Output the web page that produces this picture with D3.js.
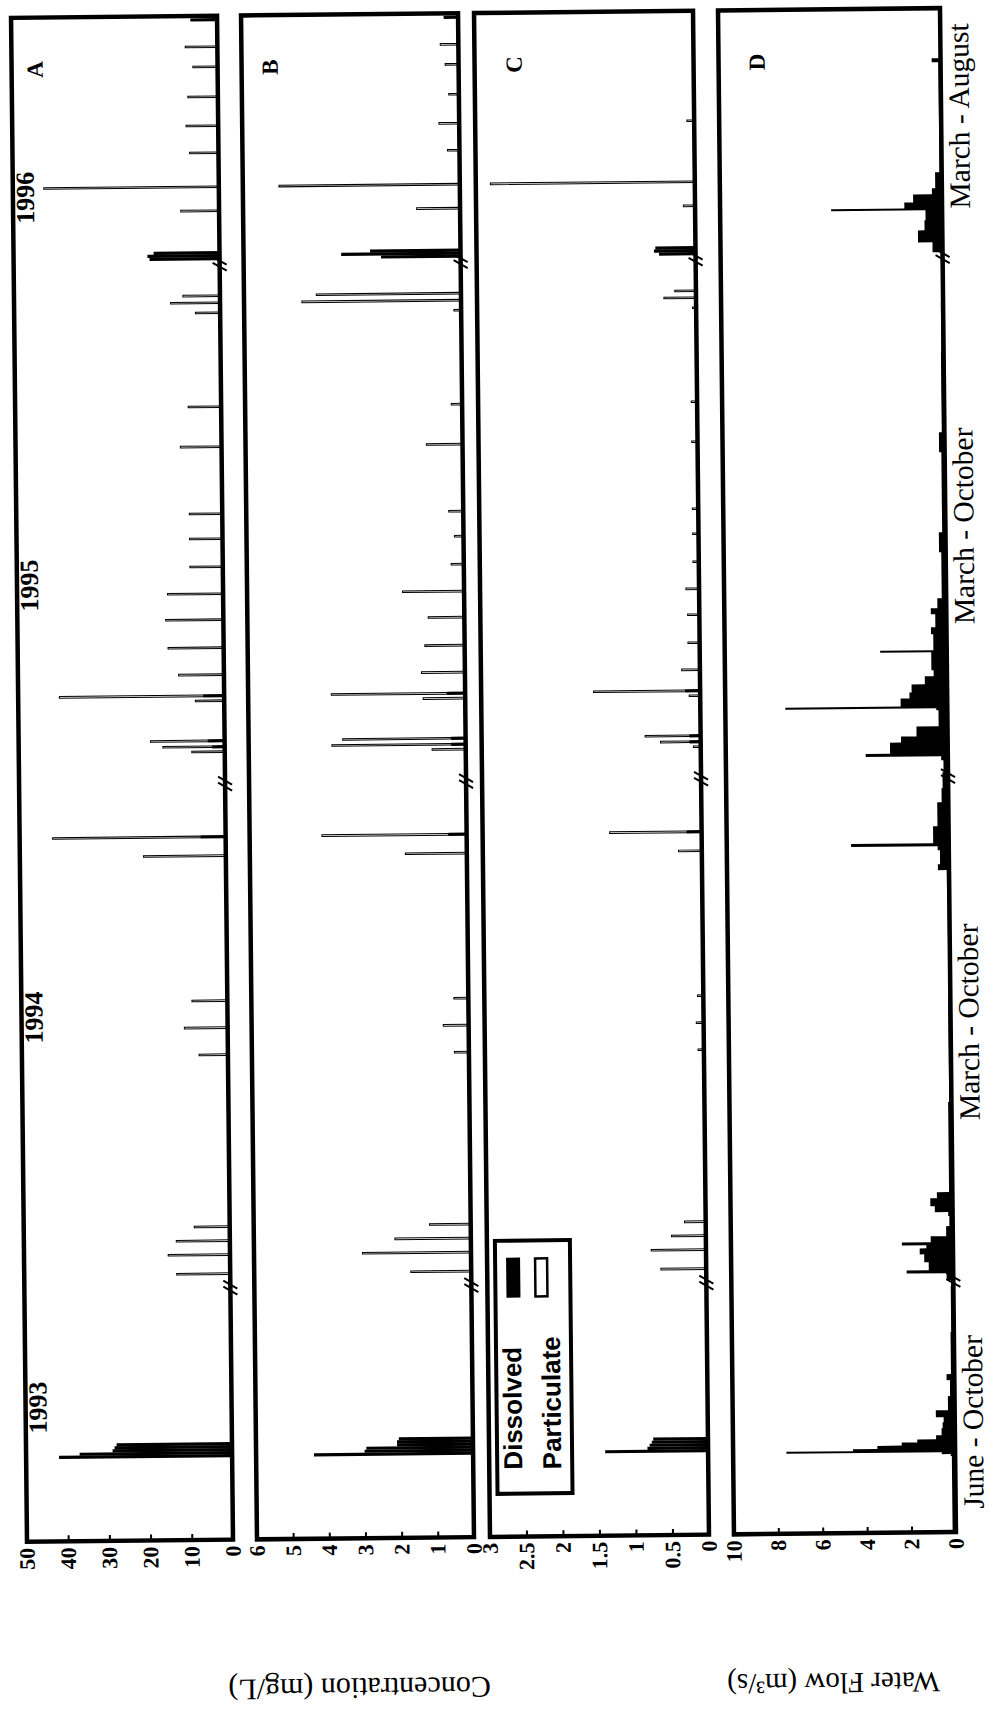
<!DOCTYPE html>
<meta charset="utf-8">
<head>
  <title>Concentration and water flow</title>
  <style>
    body { margin: 0; background: #fff; }
  </style>
</head>

<script src="https://d3js.org/d3.v7.min.js"></script>

<div id="my_dataviz"></div>

<script>

// sampling days along the (broken) time axis, winters left out
var sampleDay = [42, 43.5, 45, 46.5, 48, 49.5,
  133, 142.5, 149.5, 156.5, 242.5, 256, 269.5, 342, 351.5,
  394, 396.5, 399.5, 419.5, 422, 432.5, 446, 460, 473, 486.5, 500.5, 513, 546.5, 566.5, 613.5, 618.5, 622,
  640.5, 642, 643.5, 664.5, 676.5, 693.5, 707, 721.5, 736.5, 746.5, 760];

// panel A (mg/L)
var aDissolved = [42, 37, 29, 28.5, 28, 0,
  0, 0, 0, 0, 0, 0, 0, 0, 6,
  0, 3, 4, 0, 5, 0, 0, 0, 0, 0, 0, 0, 0, 0, 0, 0, 0,
  17, 17.5, 16, 0, 0, 0, 0, 0, 0, 0, 6.5];
var aParticulate = [0, 0, 0, 0, 0, 0,
  13, 15, 13, 8.6, 7, 10.5, 8.6, 20, 36,
  8, 12, 14, 7, 35, 11, 13.5, 14, 13.5, 8, 8, 8, 10, 8, 6, 12, 9,
  0, 0, 0, 9.3, 42.5, 7, 7.8, 7.3, 6, 7.8, 0];

// panel B (mg/L)
var bDissolved = [4.4, 3.0, 2.95, 2.1, 2.1, 2.05,
  0, 0, 0, 0, 0, 0, 0, 0, 0.5,
  0, 0.4, 0.4, 0, 0.5, 0, 0, 0, 0, 0, 0, 0, 0, 0, 0, 0, 0,
  2.2, 3.3, 2.5, 0, 0, 0, 0, 0, 0, 0, 0.4];
var bParticulate = [0, 0, 0, 0, 0, 0,
  1.67, 3.0, 2.1, 1.14, 0.4, 0.7, 0.4, 1.7, 3.5,
  0.93, 3.3, 3.0, 1.16, 3.2, 1.2, 1.1, 1.0, 1.7, 0.35, 0.25, 0.4, 1.0, 0.3, 0.2, 4.4, 4.0,
  0, 0, 0, 1.2, 5.0, 0.33, 0.56, 0.28, 0.37, 0.5, 0];

// panel C (mg/L)
var cDissolved = [1.41, 0.83, 0.8, 0.77, 0.75, 0,
  0, 0, 0, 0, 0, 0, 0, 0, 0.2,
  0, 0.15, 0.15, 0, 0.2, 0, 0, 0, 0, 0, 0, 0, 0, 0, 0, 0, 0,
  0.5, 0.57, 0.55, 0, 0, 0, 0, 0, 0, 0, 0];
var cParticulate = [0, 0, 0, 0, 0, 0,
  0.62, 0.75, 0.47, 0.29, 0.08, 0.1, 0.08, 0.32, 1.06,
  0.1, 0.4, 0.61, 0.15, 1.26, 0.25, 0.16, 0.16, 0.18, 0.08, 0.08, 0.08, 0.08, 0.08, 0.05, 0.44, 0.29,
  0, 0, 0, 0.16, 2.8, 0, 0.1, 0, 0, 0, 0];

// panel D, water flow (m3/s)
var flowDay = [0, 10, 38, 39, 40, 41, 42, 43.5, 45, 46.5, 48.5, 52, 55, 57.5, 61, 68, 76, 79, 100, 123,
  126, 129.5, 131, 135, 139, 142, 143.5, 145, 148, 153, 158, 160, 163, 167, 170, 215, 265, 315, 331, 334, 341, 343, 344.5, 348, 353, 365, 372,
  380, 386, 388, 389.5, 395, 398, 403, 411, 412, 413, 417, 420, 424, 428, 431, 440, 441, 449, 452.5, 459, 462, 467, 479, 490, 500, 540, 550, 590, 615,
  640, 645, 651, 656, 661, 662, 665, 669, 672, 680, 735, 737, 762];
var flowValue = [0.15, 0.15, 0.2, 0.6, 7.6, 4.6, 3.5, 2.4, 1.7, 0.85, 0.6, 0.55, 0.5, 0.85, 0.3, 0.2, 0.35, 0.15, 0.12, 0.1,
  0.3, 2.1, 1.1, 1.3, 1.5, 1.2, 2.3, 1.0, 0.3, 0.15, 0.2, 0.8, 1.0, 0.7, 0.15, 0.1, 0.08, 0.1, 0.5, 0.4, 0.5, 4.4, 0.7, 0.7, 0.5, 0.3, 0.25,
  0.2, 0.3, 3.7, 2.6, 2.1, 1.4, 0.4, 0.5, 7.3, 2.1, 1.7, 1.6, 1.0, 0.6, 0.7, 3.0, 0.6, 0.7, 0.5, 0.7, 0.4, 0.2, 0.2, 0.3, 0.15, 0.25, 0.12, 0.1, 0.08,
  0.45, 1.1, 0.8, 0.75, 5.0, 1.7, 1.3, 0.45, 0.3, 0.1, 0.4, 0.05, 0.05];

// tick labels of each panel
var aTicks = [0, 10, 20, 30, 40, 50];
var bTicks = [0, 1, 2, 3, 4, 5, 6];
var cTicks = [0, 0.5, 1, 1.5, 2, 2.5, 3];
var dTicks = [0, 2, 4, 6, 8, 10];

// axis breaks and labels along the time axis
var breakDay = [126, 378, 638];
var yearLabel = ["1993", "1994", "1995", "1996"];
var yearDay = [67, 262, 478, 672];
var seasonLabel = ["June - October", "March - October", "March - October", "March - August"];
var seasonDay = [55, 255, 503, 708];
var panelName = ["A", "B", "C", "D"];


var W = 994, H = 1713;
var serif = "'Liberation Serif', 'Times New Roman', serif";
var sans = "'Liberation Sans', Arial, sans-serif";

var svg = d3.select("#my_dataviz")
  .append("svg")
    .attr("width", W)
    .attr("height", H)
    .style("display", "block");

svg.append("rect").attr("width", W).attr("height", H).attr("fill", "#fff");

// the scanned page is a little tilted
var scan = svg.append("g")
    .attr("transform", "rotate(-0.6,480,775)");

// the figure is drawn landscape and turned a quarter turn to the left
var fig = scan.append("g")
    .attr("transform", "translate(0," + H + ") rotate(-90)");

// time axis (landscape x)
var x = d3.scaleLinear().domain([0, 762]).range([176, 1700]);

var panels = [
  {top: 19,  bottom: 225, max: 50, ticks: aTicks, dis: aDissolved, par: aParticulate, letterOff: 31},
  {top: 249, bottom: 466, max: 6,  ticks: bTicks, dis: bDissolved, par: bParticulate, letterOff: 36},
  {top: 482, bottom: 701, max: 3,  ticks: cTicks, dis: cDissolved, par: cParticulate, letterOff: 47},
  {top: 726, bottom: 948, max: 10, ticks: dTicks, flow: true, letterOff: 46}
];

panels.forEach(function(p, k) {
  var y = d3.scaleLinear().domain([0, p.max]).range([p.bottom, p.top]);
  var g = fig.append("g");

  if (p.flow) {
    var flow = flowDay.map(function(t, i) { return {t: t, q: flowValue[i]}; });
    g.append("path")
      .datum(flow)
      .attr("fill", "#000")
      .attr("d", d3.area()
        .curve(d3.curveStepAfter)
        .x(function(d) { return x(d.t); })
        .y0(y(0))
        .y1(function(d) { return y(d.q); }));
  } else {
    var rows = sampleDay.map(function(t, i) { return {t: t, d: p.dis[i], p: p.par[i]}; });
    // dissolved: filled bars
    g.selectAll(".dis")
      .data(rows.filter(function(d) { return d.d > 0; }))
      .enter().append("rect")
        .attr("x", function(d) { return x(d.t) - 1.6; })
        .attr("width", 3.2)
        .attr("y", function(d) { return y(d.d); })
        .attr("height", function(d) { return y(0) - y(d.d); })
        .attr("fill", "#000");
    // particulate: open bars stacked on top
    g.selectAll(".par")
      .data(rows.filter(function(d) { return d.p > 0; }))
      .enter().append("rect")
        .attr("x", function(d) { return x(d.t) - 0.8; })
        .attr("width", 1.6)
        .attr("y", function(d) { return y(d.d + d.p); })
        .attr("height", function(d) { return y(d.d) - y(d.d + d.p); })
        .attr("fill", "#fff")
        .attr("stroke", "#000")
        .attr("stroke-width", 1);
  }

  // frame
  g.append("rect")
    .attr("x", x(0))
    .attr("y", p.top)
    .attr("width", x(762) - x(0))
    .attr("height", p.bottom - p.top)
    .attr("fill", "none")
    .attr("stroke", "#000")
    .attr("stroke-width", 4.5);

  // value axis, ticks pointing inside
  var ax = g.append("g")
    .attr("transform", "translate(" + x(0) + ",0)")
    .call(d3.axisLeft(y)
      .tickValues(p.ticks)
      .tickFormat(function(d) { return String(d); })
      .tickSizeInner(-6)
      .tickSizeOuter(0)
      .tickPadding(6));
  ax.select(".domain").remove();
  ax.selectAll("line").attr("stroke-width", 2);
  ax.selectAll("text")
    .style("font-family", serif)
    .style("font-weight", "bold")
    .style("font-size", "22px")
    .attr("fill", "#000");

  // axis breaks
  breakDay.forEach(function(b) {
    [-3, 3].forEach(function(o) {
      g.append("line")
        .attr("x1", x(b) + o - 4).attr("y1", p.bottom + 7)
        .attr("x2", x(b) + o + 4).attr("y2", p.bottom - 7)
        .attr("stroke", "#000")
        .attr("stroke-width", 2);
    });
  });

  // panel letter
  g.append("text")
    .attr("x", x(736))
    .attr("y", p.top + p.letterOff)
    .attr("text-anchor", "middle")
    .style("font-family", serif)
    .style("font-weight", "bold")
    .style("font-size", "23px")
    .text(panelName[k]);
});

// years across the top of panel A
yearLabel.forEach(function(s, i) {
  fig.append("text")
    .attr("x", x(yearDay[i]))
    .attr("y", 40)
    .attr("text-anchor", "middle")
    .style("font-family", serif)
    .style("font-weight", "bold")
    .style("font-size", "26px")
    .text(s);
});

// seasons under the time axis
seasonLabel.forEach(function(s, i) {
  fig.append("text")
    .attr("x", x(seasonDay[i]))
    .attr("y", 976)
    .attr("text-anchor", "middle")
    .style("font-family", serif)
    .style("font-size", "29.5px")
    .text(s);
});

// axis titles
fig.append("text")
  .attr("transform", "translate(36,350) rotate(-90)")
  .attr("text-anchor", "middle")
  .style("font-family", serif)
  .style("font-size", "30px")
  .text("Concentration (mg/L)");

fig.append("text")
  .attr("transform", "translate(36,824) rotate(-90)")
  .attr("text-anchor", "middle")
  .style("font-family", serif)
  .style("font-size", "29px")
  .text("Water Flow (m\u00b3/s)");

// legend inside panel C
var leg = fig.append("g");
leg.append("rect")
  .attr("x", 219).attr("y", 490)
  .attr("width", 253).attr("height", 75)
  .attr("fill", "#fff")
  .attr("stroke", "#000")
  .attr("stroke-width", 4);
leg.append("text")
  .attr("x", 243).attr("y", 515)
  .style("font-family", sans)
  .style("font-weight", "bold")
  .style("font-size", "26px")
  .text("Dissolved");
leg.append("text")
  .attr("x", 243).attr("y", 554)
  .style("font-family", sans)
  .style("font-weight", "bold")
  .style("font-size", "26px")
  .text("Particulate");
leg.append("rect")
  .attr("x", 415).attr("y", 501)
  .attr("width", 40).attr("height", 14)
  .attr("fill", "#000");
leg.append("rect")
  .attr("x", 416).attr("y", 530)
  .attr("width", 38).attr("height", 12)
  .attr("fill", "#fff")
  .attr("stroke", "#000")
  .attr("stroke-width", 2.5);

</script>
